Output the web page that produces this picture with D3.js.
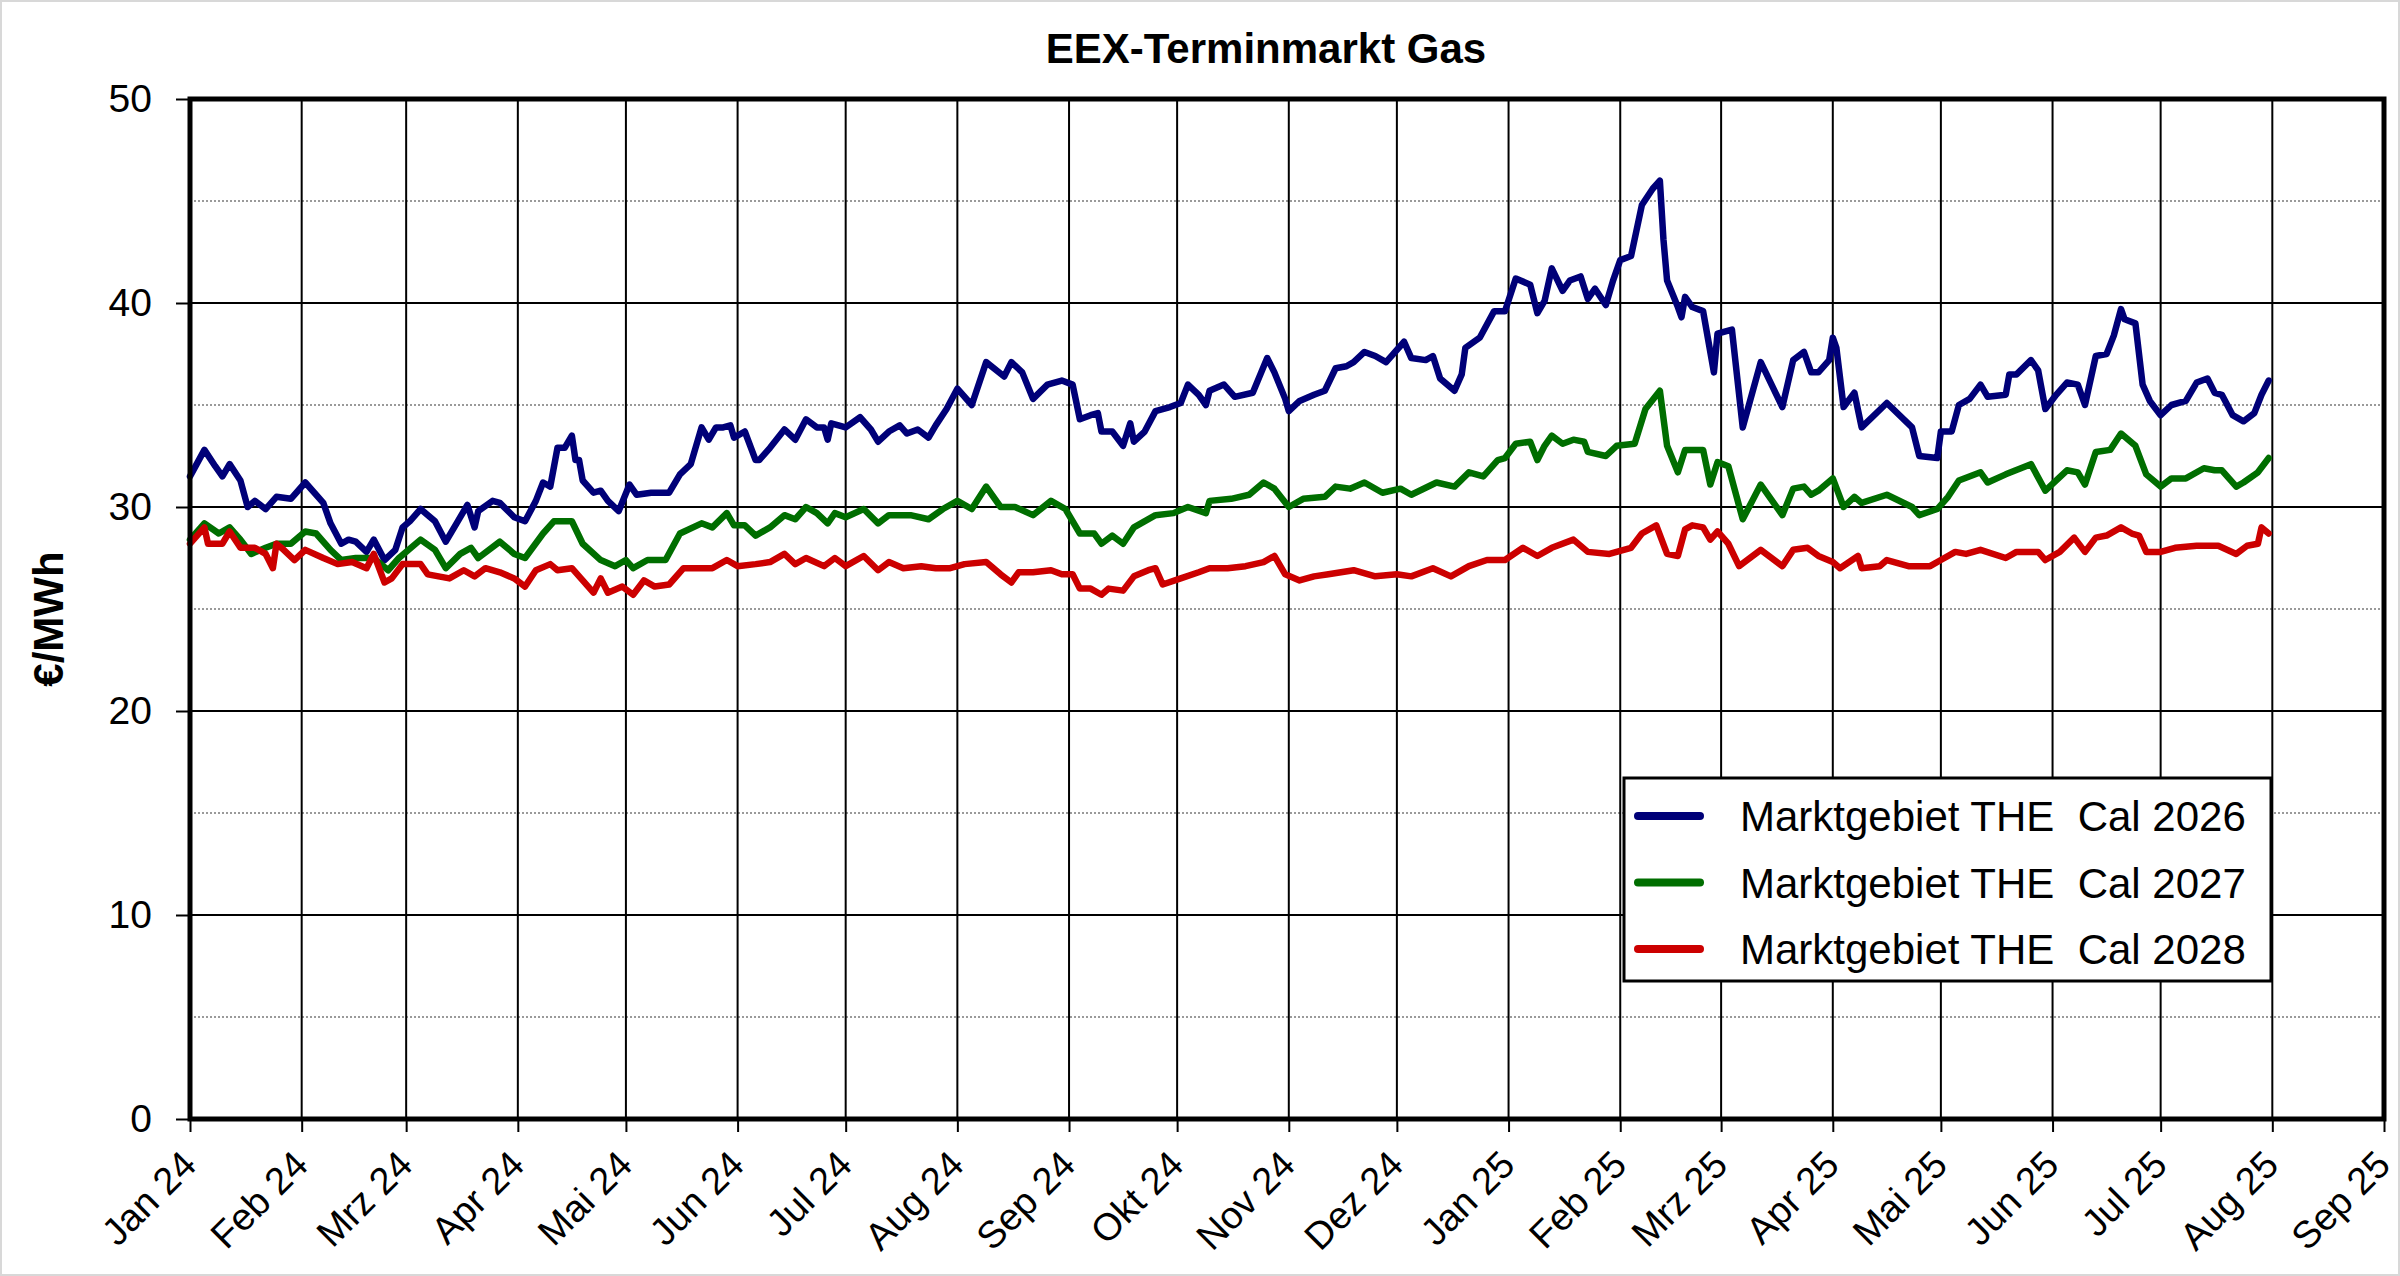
<!DOCTYPE html>
<html>
<head>
<meta charset="utf-8">
<title>EEX-Terminmarkt Gas</title>
<script src="https://cdn.jsdelivr.net/npm/d3@7"></script>
<style>
  body { margin: 0; background: #fff; }
  text { font-family: "Liberation Sans", Arial, sans-serif; fill: #000; }
</style>
</head>
<body>
<svg id="chart"></svg>
<script>
// tick labels
var monthLabels = ["Jan 24", "Feb 24", "Mrz 24", "Apr 24", "Mai 24", "Jun 24", "Jul 24", "Aug 24",
  "Sep 24", "Okt 24", "Nov 24", "Dez 24", "Jan 25", "Feb 25", "Mrz 25", "Apr 25", "Mai 25",
  "Jun 25", "Jul 25", "Aug 25", "Sep 25"];
var yTicks = [0, 10, 20, 30, 40, 50];
var yMinor = [5, 15, 25, 35, 45];

var seriesNames = ["Marktgebiet THE  Cal 2026", "Marktgebiet THE  Cal 2027", "Marktgebiet THE  Cal 2028"];
var seriesColors = ["#000078", "#006e00", "#cc0000"];

// values, €/MWh
var cal2026 = [
  ["2024-01-01",31.5],["2024-01-05",32.8],["2024-01-08",32.0],["2024-01-10",31.5],["2024-01-12",32.1],
  ["2024-01-15",31.3],["2024-01-17",30.0],["2024-01-19",30.3],["2024-01-22",29.9],["2024-01-25",30.5],
  ["2024-01-29",30.4],["2024-02-02",31.2],["2024-02-07",30.2],["2024-02-09",29.2],["2024-02-12",28.2],
  ["2024-02-14",28.4],["2024-02-16",28.3],["2024-02-19",27.8],["2024-02-21",28.4],["2024-02-24",27.4],
  ["2024-02-27",27.9],["2024-02-29",29.0],["2024-03-02",29.3],["2024-03-05",29.9],["2024-03-09",29.3],
  ["2024-03-12",28.3],["2024-03-15",29.2],["2024-03-18",30.1],["2024-03-20",29.0],["2024-03-21",29.8],
  ["2024-03-25",30.3],["2024-03-27",30.2],["2024-03-31",29.5],["2024-04-03",29.3],["2024-04-06",30.3],
  ["2024-04-08",31.2],["2024-04-10",31.0],["2024-04-12",32.9],["2024-04-14",32.9],["2024-04-16",33.5],
  ["2024-04-17",32.3],["2024-04-18",32.3],["2024-04-19",31.3],["2024-04-22",30.7],["2024-04-24",30.8],
  ["2024-04-26",30.3],["2024-04-29",29.8],["2024-05-02",31.1],["2024-05-04",30.6],["2024-05-08",30.7],
  ["2024-05-13",30.7],["2024-05-16",31.6],["2024-05-19",32.1],["2024-05-22",33.9],["2024-05-24",33.3],
  ["2024-05-26",33.9],["2024-05-28",33.9],["2024-05-30",34.0],["2024-05-31",33.4],["2024-06-03",33.7],
  ["2024-06-06",32.3],["2024-06-07",32.3],["2024-06-10",32.9],["2024-06-14",33.8],["2024-06-17",33.3],
  ["2024-06-20",34.3],["2024-06-23",33.9],["2024-06-25",33.9],["2024-06-26",33.3],["2024-06-27",34.1],
  ["2024-07-01",33.9],["2024-07-05",34.4],["2024-07-08",33.8],["2024-07-10",33.2],["2024-07-13",33.7],
  ["2024-07-16",34.0],["2024-07-18",33.6],["2024-07-21",33.8],["2024-07-24",33.4],["2024-07-26",34.0],
  ["2024-07-29",34.8],["2024-08-01",35.8],["2024-08-05",35.0],["2024-08-09",37.1],["2024-08-14",36.4],
  ["2024-08-16",37.1],["2024-08-19",36.6],["2024-08-22",35.3],["2024-08-26",36.0],["2024-08-30",36.2],
  ["2024-09-02",36.0],["2024-09-04",34.3],["2024-09-07",34.5],["2024-09-09",34.6],["2024-09-10",33.7],
  ["2024-09-13",33.7],["2024-09-16",33.0],["2024-09-18",34.1],["2024-09-19",33.2],["2024-09-22",33.7],
  ["2024-09-25",34.7],["2024-09-29",34.9],["2024-10-02",35.1],["2024-10-04",36.0],["2024-10-07",35.5],
  ["2024-10-09",35.0],["2024-10-10",35.7],["2024-10-14",36.0],["2024-10-17",35.4],["2024-10-22",35.6],
  ["2024-10-26",37.3],["2024-10-28",36.6],["2024-10-31",35.3],["2024-11-01",34.7],["2024-11-04",35.2],
  ["2024-11-08",35.5],["2024-11-11",35.7],["2024-11-14",36.8],["2024-11-17",36.9],["2024-11-19",37.1],
  ["2024-11-22",37.6],["2024-11-25",37.4],["2024-11-28",37.1],["2024-12-03",38.1],["2024-12-05",37.3],
  ["2024-12-09",37.2],["2024-12-11",37.4],["2024-12-13",36.3],["2024-12-17",35.7],["2024-12-19",36.5],
  ["2024-12-20",37.8],["2024-12-24",38.3],["2024-12-28",39.6],["2024-12-31",39.6],["2025-01-03",41.2],
  ["2025-01-07",40.9],["2025-01-09",39.5],["2025-01-11",40.1],["2025-01-13",41.7],["2025-01-16",40.6],
  ["2025-01-18",41.1],["2025-01-21",41.3],["2025-01-23",40.2],["2025-01-25",40.7],["2025-01-28",39.9],
  ["2025-01-30",41.1],["2025-02-01",42.1],["2025-02-04",42.3],["2025-02-07",44.8],["2025-02-10",45.6],
  ["2025-02-12",46.0],["2025-02-13",43.1],["2025-02-14",41.1],["2025-02-17",39.8],["2025-02-18",39.3],
  ["2025-02-19",40.3],["2025-02-21",39.8],["2025-02-24",39.6],["2025-02-27",36.6],["2025-02-28",38.5],
  ["2025-03-04",38.7],["2025-03-07",33.9],["2025-03-12",37.1],["2025-03-18",34.9],["2025-03-21",37.2],
  ["2025-03-24",37.6],["2025-03-26",36.6],["2025-03-28",36.6],["2025-03-31",37.2],["2025-04-01",38.3],
  ["2025-04-02",37.8],["2025-04-04",34.9],["2025-04-07",35.6],["2025-04-09",33.9],["2025-04-16",35.1],
  ["2025-04-23",33.9],["2025-04-25",32.5],["2025-04-30",32.4],["2025-05-01",33.7],["2025-05-04",33.7],
  ["2025-05-06",35.0],["2025-05-09",35.3],["2025-05-12",36.0],["2025-05-14",35.4],["2025-05-19",35.5],
  ["2025-05-20",36.5],["2025-05-22",36.5],["2025-05-26",37.2],["2025-05-28",36.7],["2025-05-30",34.8],
  ["2025-06-02",35.5],["2025-06-05",36.1],["2025-06-08",36.0],["2025-06-10",35.0],["2025-06-13",37.4],
  ["2025-06-16",37.5],["2025-06-18",38.4],["2025-06-20",39.7],["2025-06-21",39.2],["2025-06-24",39.0],
  ["2025-06-26",36.0],["2025-06-28",35.2],["2025-07-01",34.5],["2025-07-04",35.0],["2025-07-08",35.2],
  ["2025-07-11",36.1],["2025-07-14",36.3],["2025-07-16",35.6],["2025-07-18",35.5],["2025-07-21",34.5],
  ["2025-07-24",34.2],["2025-07-27",34.6],["2025-07-29",35.5],["2025-07-31",36.2]
];

var cal2027 = [
  ["2024-01-01",28.4],["2024-01-05",29.2],["2024-01-09",28.7],["2024-01-12",29.0],["2024-01-15",28.4],
  ["2024-01-18",27.7],["2024-01-22",28.0],["2024-01-25",28.2],["2024-01-29",28.2],["2024-02-02",28.8],
  ["2024-02-05",28.7],["2024-02-09",27.9],["2024-02-12",27.4],["2024-02-16",27.5],["2024-02-21",27.5],
  ["2024-02-25",26.9],["2024-02-28",27.5],["2024-03-05",28.4],["2024-03-09",27.9],["2024-03-12",27.0],
  ["2024-03-16",27.7],["2024-03-19",28.0],["2024-03-21",27.5],["2024-03-27",28.3],["2024-03-31",27.7],
  ["2024-04-03",27.5],["2024-04-08",28.7],["2024-04-11",29.3],["2024-04-16",29.3],["2024-04-19",28.2],
  ["2024-04-24",27.4],["2024-04-28",27.1],["2024-05-01",27.4],["2024-05-03",27.0],["2024-05-07",27.4],
  ["2024-05-12",27.4],["2024-05-16",28.7],["2024-05-22",29.2],["2024-05-25",29.0],["2024-05-29",29.7],
  ["2024-05-31",29.1],["2024-06-03",29.1],["2024-06-06",28.6],["2024-06-10",29.0],["2024-06-14",29.6],
  ["2024-06-17",29.4],["2024-06-20",30.0],["2024-06-23",29.7],["2024-06-26",29.2],["2024-06-28",29.7],
  ["2024-07-01",29.5],["2024-07-06",29.9],["2024-07-10",29.2],["2024-07-13",29.6],["2024-07-19",29.6],
  ["2024-07-24",29.4],["2024-07-28",29.9],["2024-08-01",30.3],["2024-08-05",29.9],["2024-08-09",31.0],
  ["2024-08-13",30.0],["2024-08-17",30.0],["2024-08-22",29.6],["2024-08-27",30.3],["2024-08-31",29.9],
  ["2024-09-04",28.7],["2024-09-08",28.7],["2024-09-10",28.2],["2024-09-13",28.6],["2024-09-16",28.2],
  ["2024-09-19",29.0],["2024-09-25",29.6],["2024-09-30",29.7],["2024-10-04",30.0],["2024-10-09",29.7],
  ["2024-10-10",30.3],["2024-10-16",30.4],["2024-10-21",30.6],["2024-10-25",31.2],["2024-10-28",30.9],
  ["2024-11-01",30.0],["2024-11-05",30.4],["2024-11-11",30.5],["2024-11-14",31.0],["2024-11-18",30.9],
  ["2024-11-22",31.2],["2024-11-27",30.7],["2024-12-02",30.9],["2024-12-05",30.6],["2024-12-12",31.2],
  ["2024-12-17",31.0],["2024-12-21",31.7],["2024-12-25",31.5],["2024-12-29",32.3],["2024-12-31",32.4],
  ["2025-01-03",33.1],["2025-01-07",33.2],["2025-01-09",32.3],["2025-01-11",33.0],["2025-01-13",33.5],
  ["2025-01-16",33.1],["2025-01-19",33.3],["2025-01-22",33.2],["2025-01-23",32.7],["2025-01-28",32.5],
  ["2025-01-31",33.0],["2025-02-05",33.1],["2025-02-08",34.8],["2025-02-12",35.7],["2025-02-14",33.0],
  ["2025-02-17",31.7],["2025-02-19",32.8],["2025-02-24",32.8],["2025-02-26",31.1],["2025-02-28",32.2],
  ["2025-03-03",32.0],["2025-03-07",29.4],["2025-03-12",31.1],["2025-03-18",29.6],["2025-03-21",30.9],
  ["2025-03-24",31.0],["2025-03-26",30.6],["2025-03-28",30.8],["2025-04-01",31.4],["2025-04-04",30.0],
  ["2025-04-07",30.5],["2025-04-09",30.2],["2025-04-16",30.6],["2025-04-23",30.0],["2025-04-25",29.6],
  ["2025-04-30",29.9],["2025-05-03",30.5],["2025-05-06",31.3],["2025-05-12",31.7],["2025-05-14",31.2],
  ["2025-05-19",31.6],["2025-05-26",32.1],["2025-05-30",30.8],["2025-06-05",31.8],["2025-06-08",31.7],
  ["2025-06-10",31.1],["2025-06-13",32.7],["2025-06-17",32.8],["2025-06-20",33.6],["2025-06-24",33.0],
  ["2025-06-27",31.6],["2025-07-01",31.0],["2025-07-04",31.4],["2025-07-08",31.4],["2025-07-13",31.9],
  ["2025-07-16",31.8],["2025-07-18",31.8],["2025-07-22",31.0],["2025-07-24",31.2],["2025-07-28",31.7],
  ["2025-07-31",32.4]
];

var cal2028 = [
  ["2024-01-01",28.2],["2024-01-05",29.0],["2024-01-06",28.2],["2024-01-10",28.2],["2024-01-12",28.8],
  ["2024-01-15",28.0],["2024-01-19",28.0],["2024-01-22",27.7],["2024-01-24",27.0],["2024-01-25",28.2],
  ["2024-01-27",27.9],["2024-01-30",27.4],["2024-02-02",27.9],["2024-02-07",27.5],["2024-02-11",27.2],
  ["2024-02-15",27.3],["2024-02-19",27.0],["2024-02-21",27.7],["2024-02-24",26.3],["2024-02-26",26.5],
  ["2024-02-29",27.2],["2024-03-05",27.2],["2024-03-07",26.7],["2024-03-13",26.5],["2024-03-17",26.9],
  ["2024-03-20",26.6],["2024-03-23",27.0],["2024-03-27",26.8],["2024-03-31",26.5],["2024-04-03",26.1],
  ["2024-04-06",26.9],["2024-04-10",27.2],["2024-04-12",26.9],["2024-04-16",27.0],["2024-04-19",26.4],
  ["2024-04-22",25.8],["2024-04-24",26.5],["2024-04-26",25.8],["2024-04-30",26.1],["2024-05-03",25.7],
  ["2024-05-06",26.4],["2024-05-09",26.1],["2024-05-13",26.2],["2024-05-17",27.0],["2024-05-21",27.0],
  ["2024-05-25",27.0],["2024-05-29",27.4],["2024-06-01",27.1],["2024-06-06",27.2],["2024-06-10",27.3],
  ["2024-06-14",27.7],["2024-06-17",27.2],["2024-06-20",27.5],["2024-06-25",27.1],["2024-06-28",27.5],
  ["2024-07-01",27.1],["2024-07-06",27.6],["2024-07-10",26.9],["2024-07-13",27.3],["2024-07-17",27.0],
  ["2024-07-22",27.1],["2024-07-26",27.0],["2024-07-30",27.0],["2024-08-03",27.2],["2024-08-09",27.3],
  ["2024-08-13",26.7],["2024-08-16",26.3],["2024-08-18",26.8],["2024-08-22",26.8],["2024-08-27",26.9],
  ["2024-08-30",26.7],["2024-09-02",26.7],["2024-09-04",26.0],["2024-09-07",26.0],["2024-09-10",25.7],
  ["2024-09-12",26.0],["2024-09-16",25.9],["2024-09-19",26.6],["2024-09-23",26.9],["2024-09-25",27.0],
  ["2024-09-27",26.2],["2024-10-02",26.5],["2024-10-07",26.8],["2024-10-10",27.0],["2024-10-15",27.0],
  ["2024-10-20",27.1],["2024-10-25",27.3],["2024-10-28",27.6],["2024-10-31",26.7],["2024-11-04",26.4],
  ["2024-11-08",26.6],["2024-11-12",26.7],["2024-11-19",26.9],["2024-11-25",26.6],["2024-12-01",26.7],
  ["2024-12-05",26.6],["2024-12-11",27.0],["2024-12-16",26.6],["2024-12-21",27.1],["2024-12-26",27.4],
  ["2024-12-31",27.4],["2025-01-05",28.0],["2025-01-09",27.6],["2025-01-13",28.0],["2025-01-19",28.4],
  ["2025-01-23",27.8],["2025-01-29",27.7],["2025-02-04",28.0],["2025-02-07",28.7],["2025-02-11",29.1],
  ["2025-02-14",27.7],["2025-02-17",27.6],["2025-02-19",28.9],["2025-02-21",29.1],["2025-02-24",29.0],
  ["2025-02-26",28.4],["2025-02-28",28.8],["2025-03-03",28.2],["2025-03-06",27.1],["2025-03-12",27.9],
  ["2025-03-18",27.1],["2025-03-21",27.9],["2025-03-25",28.0],["2025-03-28",27.6],["2025-04-01",27.3],
  ["2025-04-03",27.0],["2025-04-08",27.6],["2025-04-09",27.0],["2025-04-14",27.1],["2025-04-16",27.4],
  ["2025-04-22",27.1],["2025-04-28",27.1],["2025-05-01",27.4],["2025-05-05",27.8],["2025-05-08",27.7],
  ["2025-05-12",27.9],["2025-05-19",27.5],["2025-05-22",27.8],["2025-05-28",27.8],["2025-05-30",27.4],
  ["2025-06-03",27.8],["2025-06-07",28.5],["2025-06-10",27.8],["2025-06-13",28.5],["2025-06-16",28.6],
  ["2025-06-20",29.0],["2025-06-23",28.7],["2025-06-25",28.6],["2025-06-27",27.8],["2025-07-01",27.8],
  ["2025-07-05",28.0],["2025-07-11",28.1],["2025-07-17",28.1],["2025-07-22",27.7],["2025-07-25",28.1],
  ["2025-07-28",28.2],["2025-07-29",29.0],["2025-07-31",28.7]
];

var allSeries = [cal2026, cal2027, cal2028];

var W = 2400, H = 1276;
var plot = { left: 190, right: 2384, top: 99, bottom: 1119 };

var svg = d3.select("#chart").attr("width", W).attr("height", H);

svg.append("rect")
  .attr("x", 1).attr("y", 1).attr("width", W - 2).attr("height", H - 2)
  .attr("fill", "#fff").attr("stroke", "#d8d8d8").attr("stroke-width", 2);

var parseDate = d3.timeParse("%Y-%m-%d");

var x = d3.scaleTime()
  .domain([new Date(2024, 0, 1), new Date(2025, 8, 1)])
  .range([plot.left, plot.right]);

var y = d3.scaleLinear()
  .domain([0, 50])
  .range([plot.bottom, plot.top]);

var months = d3.timeMonth.range(new Date(2024, 0, 1), new Date(2025, 8, 2));

// minor horizontal gridlines (dotted grey)
svg.append("g").selectAll("line").data(yMinor).enter().append("line")
  .attr("x1", plot.left).attr("x2", plot.right)
  .attr("y1", d => y(d)).attr("y2", d => y(d))
  .attr("stroke", "#9a9a9a").attr("stroke-width", 2).attr("stroke-dasharray", "2,2");

// major horizontal gridlines
svg.append("g").selectAll("line").data(yTicks.slice(1, -1)).enter().append("line")
  .attr("x1", plot.left).attr("x2", plot.right)
  .attr("y1", d => y(d)).attr("y2", d => y(d))
  .attr("stroke", "#000").attr("stroke-width", 2);

// vertical month gridlines
svg.append("g").selectAll("line").data(months.slice(1, -1)).enter().append("line")
  .attr("x1", d => x(d)).attr("x2", d => x(d))
  .attr("y1", plot.top).attr("y2", plot.bottom)
  .attr("stroke", "#000").attr("stroke-width", 2);

// y axis
var yAxis = d3.axisLeft(y).tickValues(yTicks).tickSize(14).tickPadding(24);
var gy = svg.append("g").attr("transform", "translate(" + plot.left + ",0)").call(yAxis);
gy.select(".domain").remove();
gy.selectAll(".tick line").attr("stroke", "#000").attr("stroke-width", 2);
gy.selectAll(".tick text")
  .style("font-family", "'Liberation Sans', Arial, sans-serif")
  .style("font-size", "39px").attr("fill", "#000");

// x axis
var xAxis = d3.axisBottom(x).tickValues(months).tickSize(13)
  .tickFormat((d, i) => monthLabels[i]);
var gx = svg.append("g").attr("transform", "translate(0," + plot.bottom + ")").call(xAxis);
gx.select(".domain").remove();
gx.selectAll(".tick line").attr("stroke", "#000").attr("stroke-width", 2);
gx.selectAll(".tick text")
  .style("font-family", "'Liberation Sans', Arial, sans-serif")
  .style("font-size", "38px").attr("fill", "#000")
  .attr("text-anchor", "end")
  .attr("y", 0).attr("dy", 0)
  .attr("transform", "translate(8,48) rotate(-45)");

// series lines
var line = d3.line()
  .x(d => x(parseDate(d[0])))
  .y(d => y(d[1]));

svg.append("g").selectAll("path").data(allSeries).enter().append("path")
  .attr("d", line)
  .attr("fill", "none")
  .attr("stroke", (d, i) => seriesColors[i])
  .attr("stroke-width", 6.5)
  .attr("stroke-linejoin", "round")
  .attr("stroke-linecap", "round");

// plot frame
svg.append("rect")
  .attr("x", plot.left).attr("y", plot.top)
  .attr("width", plot.right - plot.left).attr("height", plot.bottom - plot.top)
  .attr("fill", "none").attr("stroke", "#000").attr("stroke-width", 5);

// legend
var legend = svg.append("g").attr("transform", "translate(1624,778)");
legend.append("rect")
  .attr("width", 647).attr("height", 203)
  .attr("fill", "#fff").attr("stroke", "#000").attr("stroke-width", 3);
var items = legend.selectAll("g.item").data(seriesNames).enter().append("g")
  .attr("class", "item")
  .attr("transform", (d, i) => "translate(0," + (38 + i * 66.5) + ")");
items.append("line")
  .attr("x1", 14).attr("x2", 76)
  .attr("stroke", (d, i) => seriesColors[i])
  .attr("stroke-width", 8).attr("stroke-linecap", "round");
items.append("text")
  .attr("x", 116).attr("dy", "0.36em")
  .style("font-size", "42px").style("white-space", "pre")
  .text(d => d);

// title
svg.append("text")
  .attr("x", 1266).attr("y", 63)
  .attr("text-anchor", "middle")
  .style("font-size", "42px").style("font-weight", "bold")
  .text("EEX-Terminmarkt Gas");

// y axis label
svg.append("text")
  .attr("transform", "translate(63,619) rotate(-90)")
  .attr("text-anchor", "middle")
  .style("font-size", "42px").style("font-weight", "bold")
  .text("€/MWh");
</script>
</body>
</html>
